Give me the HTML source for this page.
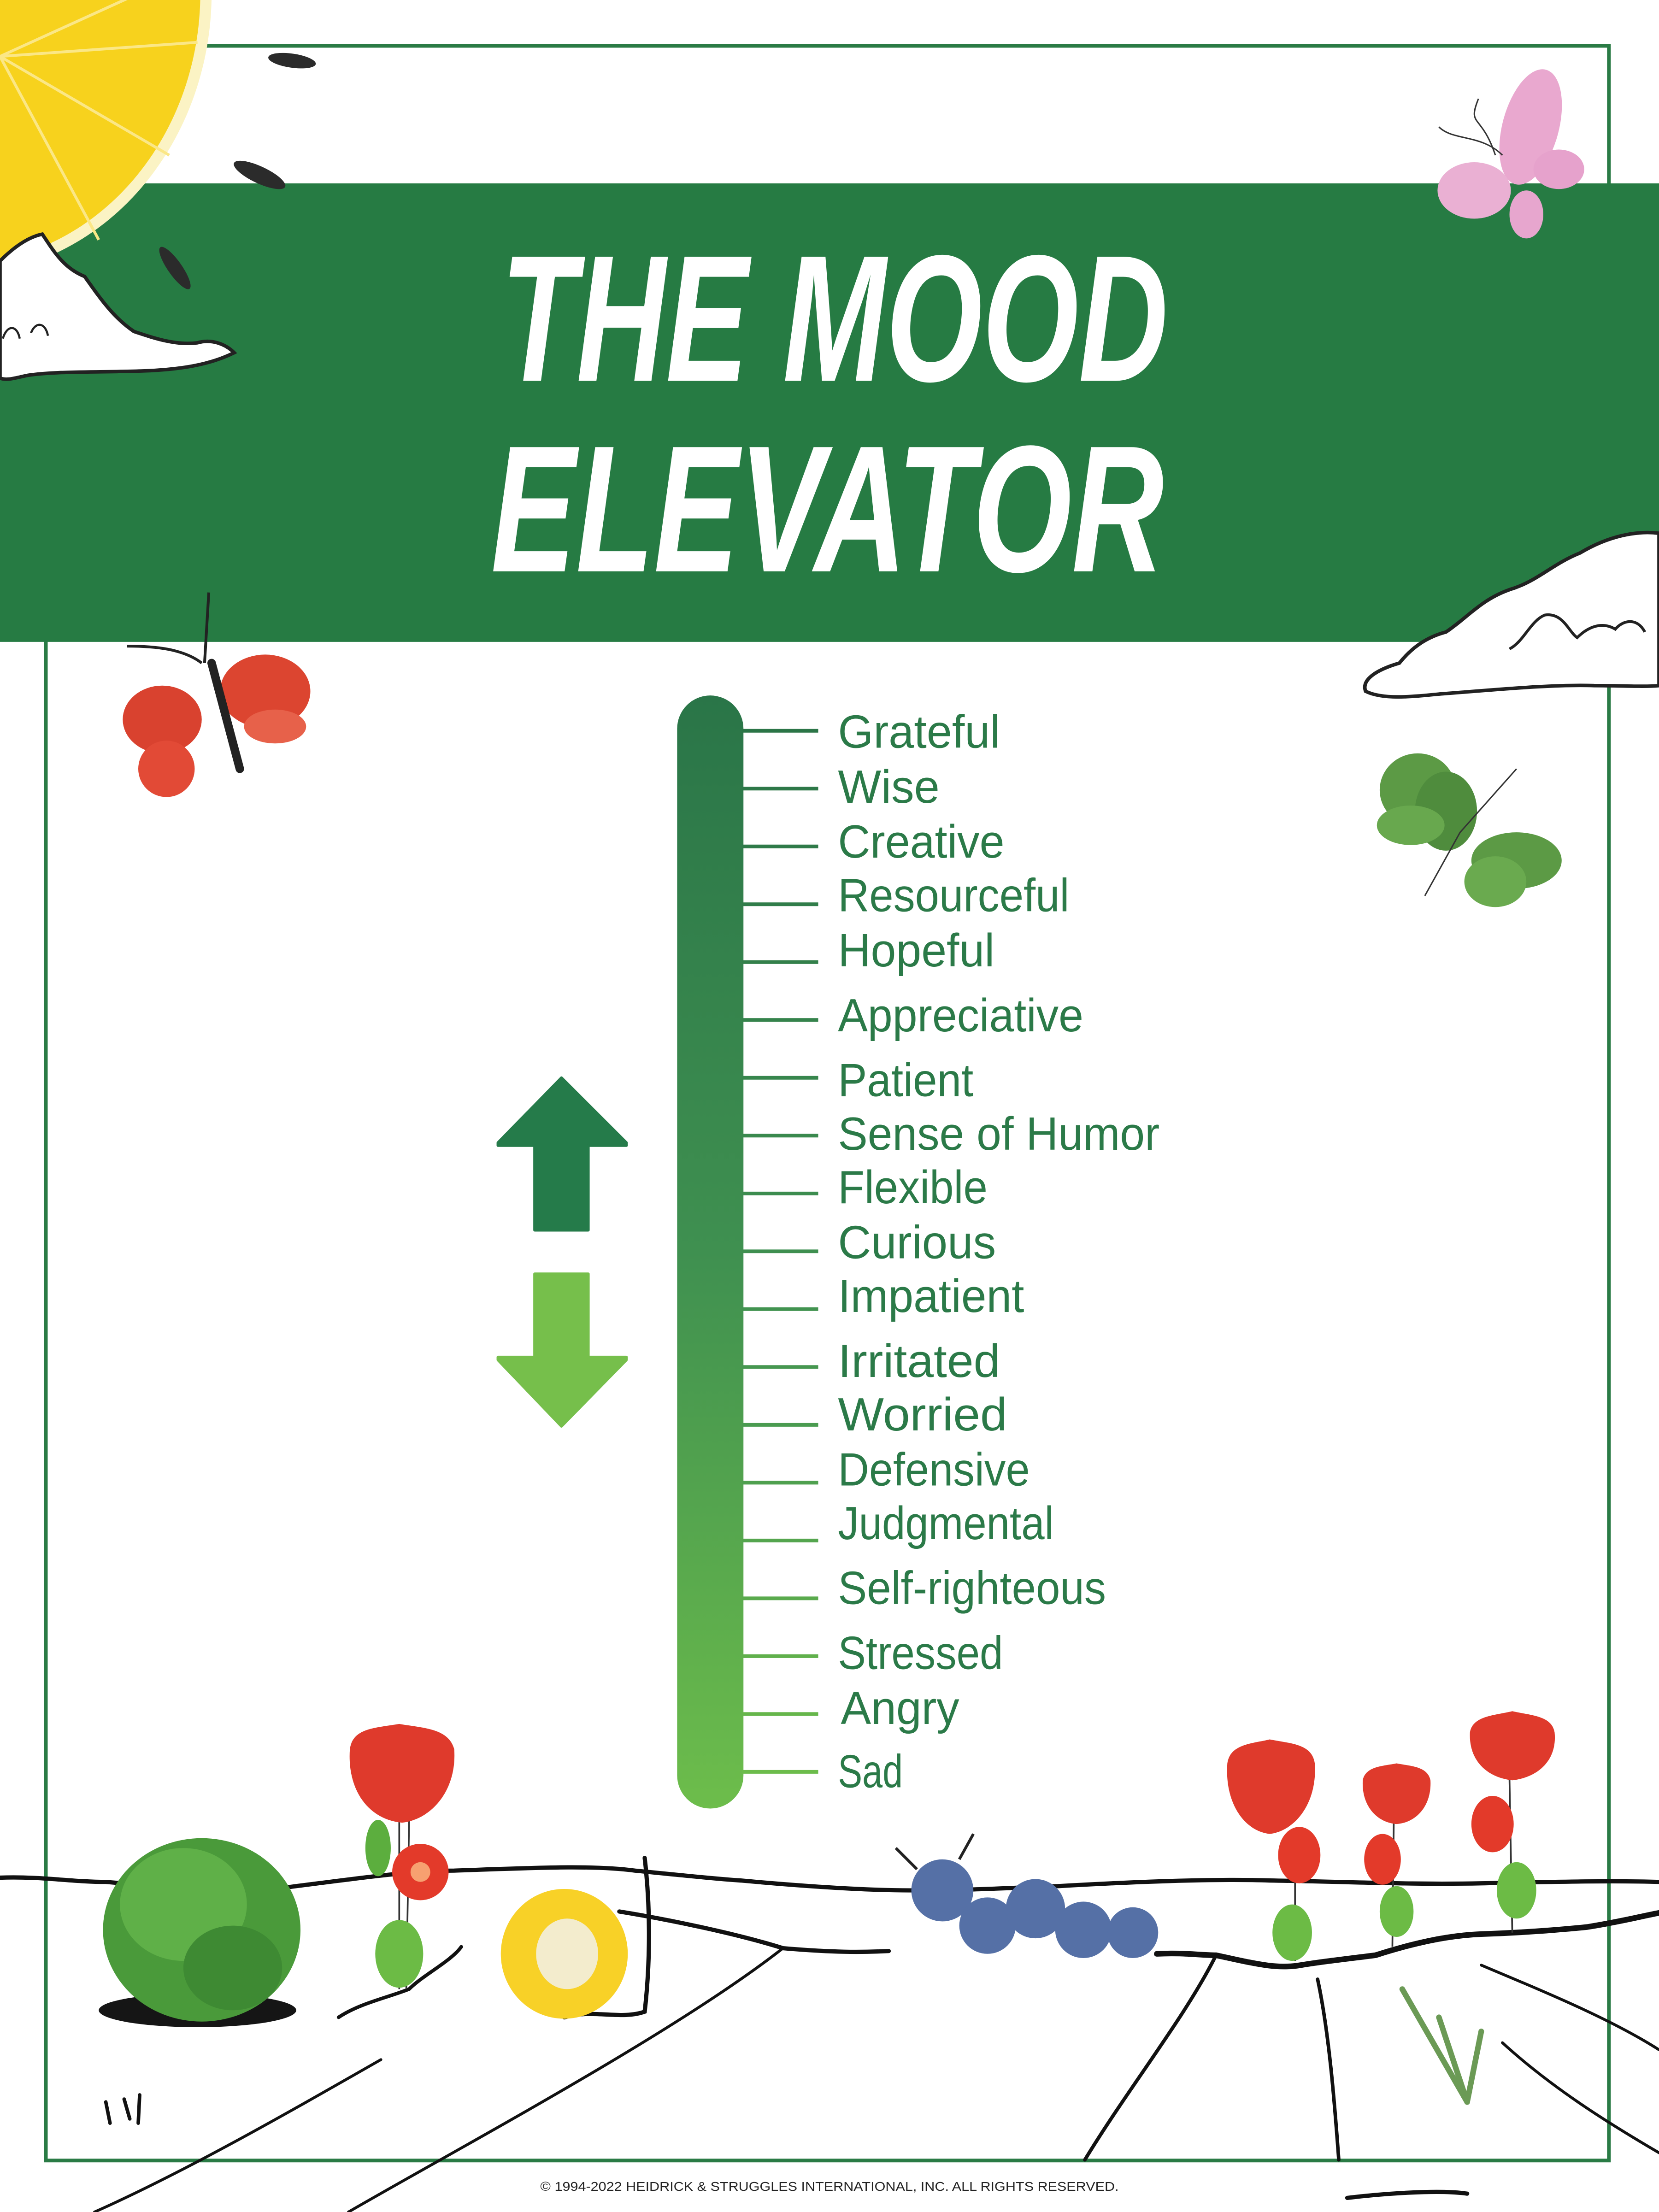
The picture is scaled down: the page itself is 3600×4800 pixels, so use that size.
<!DOCTYPE html>
<html><head><meta charset="utf-8"><style>
html,body{margin:0;padding:0;background:#fff;}
svg{display:block;}
</style></head><body>
<svg width="3600" height="4800" viewBox="0 0 1176 1568" xmlns="http://www.w3.org/2000/svg">
<defs>
<linearGradient id="bar" x1="0" y1="0" x2="0" y2="1">
<stop offset="0" stop-color="#2a7548"/><stop offset="0.5" stop-color="#3f9050"/><stop offset="1" stop-color="#6dbd4b"/>
</linearGradient>
</defs>
<rect x="0" y="0" width="1176" height="1568" fill="#fff"/>
<rect x="32.5" y="32.5" width="1108" height="1499" fill="none" stroke="#2a7b45" stroke-width="2.6"/>
<rect x="0" y="130" width="1176" height="325" fill="#267b43"/>
<ellipse cx="-30" cy="-5" rx="180" ry="200" fill="#fbf3c4"/>
<ellipse cx="-30" cy="-5" rx="172" ry="192" fill="#f7d21d"/>
<g stroke="#fbe786" stroke-width="2" fill="none">
<line x1="0" y1="40" x2="140" y2="30"/><line x1="0" y1="40" x2="120" y2="110"/><line x1="0" y1="40" x2="70" y2="170"/><line x1="0" y1="40" x2="110" y2="-10"/>
</g>
<ellipse cx="207" cy="43" rx="17" ry="5" fill="#2b2b2b" transform="rotate(8 207 43)"/>
<ellipse cx="184" cy="124" rx="20" ry="6" fill="#2b2b2b" transform="rotate(25 184 124)"/>
<ellipse cx="124" cy="190" rx="18" ry="5" fill="#2b2b2b" transform="rotate(55 124 190)"/>
<path d="M0,185 C10,175 20,168 30,166 C38,178 45,190 60,196 C70,210 80,225 95,235 C110,240 125,245 140,243 C150,240 160,244 166,250 C150,258 130,262 100,263 C70,264 40,263 20,266 C10,268 5,270 0,268 Z" fill="#fff" stroke="#222" stroke-width="2.5"/>
<path d="M2,240 C5,230 12,230 14,240 M22,236 C25,228 32,228 34,238" fill="none" stroke="#222" stroke-width="1.5"/>
<path d="M1176,378 C1160,376 1140,380 1120,392 C1100,400 1090,412 1070,418 C1050,425 1040,438 1025,448 C1010,452 1000,460 992,470 C975,475 965,482 968,490 C980,496 1000,494 1020,492 C1060,489 1100,485 1130,486 C1150,486 1165,487 1176,486 Z" fill="#fff" stroke="#222" stroke-width="2.5"/>
<path d="M1070,460 C1080,455 1085,440 1095,436 C1108,434 1112,448 1118,452 C1125,445 1135,440 1145,446 C1150,440 1160,437 1166,448" fill="none" stroke="#222" stroke-width="2"/>
<g font-family="Liberation Sans, sans-serif" font-weight="bold" font-style="italic" fill="#fff">
<text x="355" y="270" font-size="128" textLength="473" lengthAdjust="spacingAndGlyphs">THE MOOD</text>
<text x="348" y="405" font-size="128" textLength="477" lengthAdjust="spacingAndGlyphs">ELEVATOR</text>
</g>
<g>
<ellipse cx="1085" cy="90" rx="20" ry="42" fill="#e9a8cf" transform="rotate(15 1085 90)"/>
<ellipse cx="1105" cy="120" rx="18" ry="14" fill="#e6a2cc"/>
<ellipse cx="1045" cy="135" rx="26" ry="20" fill="#eab0d3"/>
<ellipse cx="1082" cy="152" rx="12" ry="17" fill="#e7a6ce"/>
<path d="M1060,110 C1050,80 1040,90 1048,70 M1065,110 C1050,95 1030,100 1020,90" fill="none" stroke="#333" stroke-width="1"/>
</g>
<g>
<ellipse cx="115" cy="510" rx="28" ry="24" fill="#d9422f"/>
<ellipse cx="118" cy="545" rx="20" ry="20" fill="#e24a36"/>
<ellipse cx="188" cy="490" rx="32" ry="26" fill="#dc4530"/>
<ellipse cx="195" cy="515" rx="22" ry="12" fill="#e7614a"/>
<path d="M150,470 L170,545" stroke="#222" stroke-width="6" stroke-linecap="round"/>
<path d="M145,470 L148,420 M143,470 C130,460 110,458 90,458" stroke="#222" stroke-width="2" fill="none"/>
</g>
<g fill="#5c9a45">
<ellipse cx="1005" cy="560" rx="27" ry="26"/><ellipse cx="1025" cy="575" rx="22" ry="28" fill="#4f8c3d"/>
<ellipse cx="1000" cy="585" rx="24" ry="14" fill="#68a84e"/>
<ellipse cx="1075" cy="610" rx="32" ry="20"/><ellipse cx="1060" cy="625" rx="22" ry="18" fill="#6aaa4f"/>
<path d="M1035,590 L1075,545 M1035,590 L1010,635" stroke="#333" stroke-width="1" fill="none"/>
</g>
<rect x="480" y="493" width="47" height="789" rx="23.5" fill="url(#bar)"/>
<g stroke-width="2.6">
<line x1="526" y1="518" x2="580" y2="518" stroke="#2b7547"/>
<line x1="526" y1="559" x2="580" y2="559" stroke="#2d7848"/>
<line x1="526" y1="600" x2="580" y2="600" stroke="#2f7a49"/>
<line x1="526" y1="641" x2="580" y2="641" stroke="#317d4a"/>
<line x1="526" y1="682" x2="580" y2="682" stroke="#33804b"/>
<line x1="526" y1="723" x2="580" y2="723" stroke="#35834c"/>
<line x1="526" y1="764" x2="580" y2="764" stroke="#37864d"/>
<line x1="526" y1="805" x2="580" y2="805" stroke="#3a894e"/>
<line x1="526" y1="846" x2="580" y2="846" stroke="#3c8c4f"/>
<line x1="526" y1="887" x2="580" y2="887" stroke="#3f8f50"/>
<line x1="526" y1="928" x2="580" y2="928" stroke="#429350"/>
<line x1="526" y1="969" x2="580" y2="969" stroke="#469750"/>
<line x1="526" y1="1010" x2="580" y2="1010" stroke="#4a9b50"/>
<line x1="526" y1="1051" x2="580" y2="1051" stroke="#4fa04f"/>
<line x1="526" y1="1092" x2="580" y2="1092" stroke="#54a54e"/>
<line x1="526" y1="1133" x2="580" y2="1133" stroke="#5aaa4d"/>
<line x1="526" y1="1174" x2="580" y2="1174" stroke="#60b04c"/>
<line x1="526" y1="1215" x2="580" y2="1215" stroke="#66b64b"/>
<line x1="526" y1="1256" x2="580" y2="1256" stroke="#6cbc4b"/>
</g>
<g font-family="Liberation Sans, sans-serif" font-size="33" fill="#2b7a48" lengthAdjust="spacingAndGlyphs">
<text x="594" y="530" textLength="115" lengthAdjust="spacingAndGlyphs">Grateful</text>
<text x="594" y="569" textLength="72" lengthAdjust="spacingAndGlyphs">Wise</text>
<text x="594" y="608" textLength="118" lengthAdjust="spacingAndGlyphs">Creative</text>
<text x="594" y="646" textLength="164" lengthAdjust="spacingAndGlyphs">Resourceful</text>
<text x="594" y="685" textLength="111" lengthAdjust="spacingAndGlyphs">Hopeful</text>
<text x="594" y="731" textLength="174" lengthAdjust="spacingAndGlyphs">Appreciative</text>
<text x="594" y="777" textLength="96" lengthAdjust="spacingAndGlyphs">Patient</text>
<text x="594" y="815" textLength="228" lengthAdjust="spacingAndGlyphs">Sense of Humor</text>
<text x="594" y="853" textLength="106" lengthAdjust="spacingAndGlyphs">Flexible</text>
<text x="594" y="892" textLength="112" lengthAdjust="spacingAndGlyphs">Curious</text>
<text x="594" y="930" textLength="132" lengthAdjust="spacingAndGlyphs">Impatient</text>
<text x="594" y="976" textLength="115" lengthAdjust="spacingAndGlyphs">Irritated</text>
<text x="594" y="1014" textLength="120" lengthAdjust="spacingAndGlyphs">Worried</text>
<text x="594" y="1053" textLength="136" lengthAdjust="spacingAndGlyphs">Defensive</text>
<text x="594" y="1091" textLength="153" lengthAdjust="spacingAndGlyphs">Judgmental</text>
<text x="594" y="1137" textLength="190" lengthAdjust="spacingAndGlyphs">Self-righteous</text>
<text x="594" y="1183" textLength="117" lengthAdjust="spacingAndGlyphs">Stressed</text>
<text x="596" y="1222" textLength="84" lengthAdjust="spacingAndGlyphs">Angry</text>
<text x="594" y="1267" textLength="46" lengthAdjust="spacingAndGlyphs">Sad</text>
</g>
<path d="M398,764 L444,810 L444,812 L417,812 L417,872 L379,872 L379,812 L353,812 L353,810 Z" fill="#257b4a" stroke="#257b4a" stroke-width="2" stroke-linejoin="round"/>
<path d="M379,903 L417,903 L417,962 L444,962 L444,964 L398,1011 L353,964 L353,962 L379,962 Z" fill="#76bf4b" stroke="#76bf4b" stroke-width="2" stroke-linejoin="round"/>
<g fill="none" stroke="#111" stroke-width="3" stroke-linecap="round">
<path d="M0,1331 C30,1330 50,1334 75,1334 C120,1338 170,1340 202,1338 C250,1332 290,1326 322,1326 C380,1324 420,1322 450,1326 C490,1330 510,1332 525,1333 C580,1338 620,1340 645,1340 C690,1340 720,1338 750,1337 C820,1333 870,1332 900,1333 C960,1334 1000,1336 1050,1335 C1100,1334 1140,1333 1176,1334"/>
<path d="M439,1355 C470,1360 520,1370 555,1381 C590,1384 610,1384 630,1383"/>
<path d="M555,1381 C480,1440 330,1520 247,1568" stroke-width="2"/>
<path d="M270,1460 C200,1500 130,1540 67,1568" stroke-width="2"/>
<path d="M862,1386 C840,1430 800,1480 769,1531" stroke-width="2.5"/>
<path d="M934,1403 C942,1440 946,1490 949,1531" stroke-width="2.5"/>
<path d="M1050,1393 C1090,1410 1140,1430 1176,1453" stroke-width="2"/>
<path d="M1065,1448 C1100,1480 1140,1505 1176,1526" stroke-width="2"/>
<path d="M820,1385 C840,1384 850,1386 862,1386 C890,1392 905,1396 922,1393 C940,1390 960,1388 975,1386 C1000,1378 1025,1372 1050,1371 C1080,1370 1105,1368 1125,1366 C1150,1362 1165,1358 1176,1356" stroke-width="4"/>
<path d="M457,1317 C462,1360 460,1400 457,1426 C440,1432 420,1424 400,1430" stroke-width="3"/>
<path d="M240,1430 C255,1420 275,1416 290,1410 C300,1400 320,1390 327,1380" stroke-width="2.5"/>
<path d="M75,1490 L78,1505 M88,1488 L92,1502 M99,1485 L98,1505" stroke-width="2.5"/>
<path d="M955,1558 C980,1555 1020,1552 1040,1555" stroke-width="3"/>
</g>
<ellipse cx="140" cy="1425" rx="70" ry="12" fill="#151515"/>
<ellipse cx="143" cy="1368" rx="70" ry="65" fill="#4a9a3a"/>
<ellipse cx="130" cy="1350" rx="45" ry="40" fill="#5fb048"/>
<ellipse cx="165" cy="1395" rx="35" ry="30" fill="#3e8a33"/>
<g stroke="#333" stroke-width="1.2"><line x1="283" y1="1290" x2="283" y2="1410"/><line x1="290" y1="1290" x2="288" y2="1410"/></g>
<path d="M248,1240 C250,1225 265,1225 283,1222 C300,1225 318,1225 322,1240 C324,1270 305,1290 285,1292 C262,1290 246,1270 248,1240 Z" fill="#df3a2c"/>
<circle cx="298" cy="1327" r="20" fill="#e33a2a"/><circle cx="298" cy="1327" r="7" fill="#f7a070"/>
<ellipse cx="268" cy="1310" rx="9" ry="20" fill="#5cae3e"/>
<ellipse cx="283" cy="1385" rx="17" ry="24" fill="#6cbb45"/>
<ellipse cx="400" cy="1385" rx="45" ry="46" fill="#f8d127"/>
<ellipse cx="402" cy="1385" rx="22" ry="25" fill="#f3eccd"/>
<g fill="#5570a6">
<circle cx="668" cy="1340" r="22"/><circle cx="700" cy="1365" r="20"/><circle cx="734" cy="1353" r="21"/><circle cx="768" cy="1368" r="20"/><circle cx="803" cy="1370" r="18"/>
</g>
<path d="M650,1325 L635,1310 M680,1318 L690,1300" stroke="#222" stroke-width="2" fill="none"/>
<g stroke="#333" stroke-width="1.2"><line x1="918" y1="1300" x2="918" y2="1390"/><line x1="988" y1="1290" x2="987" y2="1380"/><line x1="1070" y1="1260" x2="1072" y2="1370"/></g>
<path d="M870,1250 C872,1236 888,1236 900,1233 C915,1236 930,1236 932,1250 C934,1278 918,1298 900,1300 C882,1298 868,1278 870,1250 Z" fill="#df3a2c"/>
<path d="M966,1262 C968,1252 980,1252 990,1250 C1000,1252 1012,1252 1014,1262 C1015,1280 1004,1292 990,1293 C976,1292 965,1280 966,1262 Z" fill="#df3a2c"/>
<path d="M1042,1228 C1044,1216 1060,1216 1072,1213 C1085,1216 1100,1216 1102,1228 C1104,1248 1090,1260 1072,1262 C1054,1260 1041,1248 1042,1228 Z" fill="#df3a2c"/>
<ellipse cx="921" cy="1315" rx="15" ry="20" fill="#e33a2a"/>
<ellipse cx="980" cy="1318" rx="13" ry="18" fill="#e33a2a"/>
<ellipse cx="1058" cy="1293" rx="15" ry="20" fill="#e33a2a"/>
<ellipse cx="916" cy="1370" rx="14" ry="20" fill="#6cbb45"/>
<ellipse cx="990" cy="1355" rx="12" ry="18" fill="#6cbb45"/>
<ellipse cx="1075" cy="1340" rx="14" ry="20" fill="#6cbb45"/>
<g stroke="#6b9a55" stroke-width="4" stroke-linecap="round" fill="none">
<path d="M994,1410 L1040,1490"/><path d="M1020,1430 L1040,1490"/><path d="M1050,1440 L1040,1490"/>
</g>
<text x="588" y="1553" text-anchor="middle" font-family="Liberation Sans, sans-serif" font-size="9" fill="#222" textLength="410" lengthAdjust="spacingAndGlyphs">© 1994-2022 HEIDRICK &amp; STRUGGLES INTERNATIONAL, INC. ALL RIGHTS RESERVED.</text>
</svg>
</body></html>
